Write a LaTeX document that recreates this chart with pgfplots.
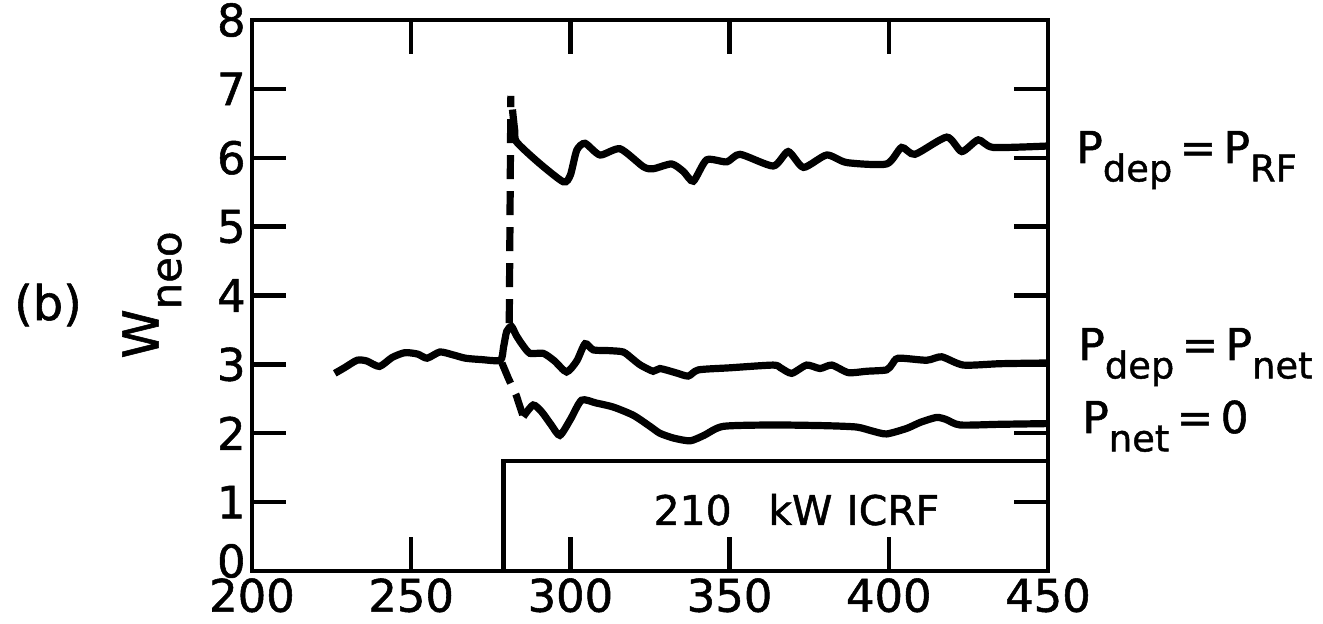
\documentclass[border=0pt]{standalone}
\usepackage{fontspec}
\setmainfont{DejaVu Sans}[FakeBold=1.2]
\usepackage{pgfplots}
\pgfplotsset{compat=1.18}

% subscripted power label, e.g. \Psub{dep}
\newcommand{\Psub}[1]{P\raisebox{-0.42em}{\fontsize{18.5}{18.5}\selectfont #1}}

\begin{document}
\begin{tikzpicture}
\begin{axis}[
  scale only axis,
  width=398bp, height=275.5bp,
  xmin=200, xmax=450, ymin=0, ymax=8,
  xtick={200,250,...,450}, ytick={1,...,8},
  extra y ticks={0},
  extra y tick style={yticklabel style={yshift=5bp}, tick style={draw=none}},
  tick align=inside,
  xtick pos=both, ytick pos=both,
  xticklabel pos=left, yticklabel pos=left,
  major tick length=17bp,
  axis line style={line width=2.4bp},
  every tick/.style={line width=2.2bp, black},
  /pgf/number format/assume math mode=true,
  ticklabel style={font=\fontsize{22.5}{22.5}\selectfont, inner sep=1bp},
  xticklabel style={yshift=-2.5bp},
  yticklabel style={xshift=-2bp},
  clip=false,
]
% ICRF pulse outline
\addplot[black, line width=2.2bp] coordinates {(279,0) (279,1.6) (450,1.6)};

% P_dep = P_net (ohmic phase and RF phase)
\addplot[black, line width=3.6bp, smooth, tension=0.4] coordinates {
 (226,2.87) (229,2.95) (233,3.06) (236,3.05) (240,2.97) (244,3.10) (248,3.17)
 (252,3.15) (255,3.09) (259,3.18) (263,3.14) (267,3.09) (272,3.07) (278,3.06)
 (279,3.25) (280,3.48) (281.5,3.55) (283,3.42) (285,3.28) (287.3,3.16)
 (291.5,3.16) (295,3.05) (298.8,2.89) (302,3.05) (304.6,3.30) (307.2,3.21)
 (312,3.20) (316.6,3.18) (319.5,3.08) (322,2.99) (326,2.90) (328.1,2.94)
 (333,2.88) (337,2.83) (340.2,2.92) (350,2.95) (363.7,2.99) (366,2.95)
 (369.5,2.87) (374.2,2.99) (378.4,2.94) (382.1,2.99) (387.3,2.88) (393,2.90)
 (399.3,2.92) (401,3.00) (403,3.09) (411.9,3.06) (416.6,3.11) (423.4,2.99)
 (435,3.01) (449.6,3.02)};

% P_net = 0
\addplot[black, line width=3.6bp, smooth, tension=0.4] coordinates {
 (285.2,2.24) (288.3,2.41) (291,2.31) (294,2.12) (296.7,1.97) (300,2.20)
 (303.5,2.48) (308,2.44) (313.5,2.38) (319.8,2.26) (325,2.10) (328.1,2.00)
 (332.4,1.93) (337.6,1.89) (342,1.97) (348,2.10) (363.7,2.12) (380,2.11)
 (389.9,2.09) (395,2.03) (399.3,1.99) (405.6,2.07) (410,2.16) (415,2.23)
 (418,2.20) (422.4,2.12) (435,2.13) (449.6,2.14)};
\addplot[black, line width=3.6bp, dash pattern=on 11bp off 6bp] coordinates {
 (278.5,3.02) (280.5,2.80) (283,2.55) (285.2,2.24)};

% P_dep = P_RF
\addplot[black, line width=3.6bp, dash pattern=on 12bp off 6bp] coordinates {
 (280.8,3.60) (281.3,6.90)};
\addplot[black, line width=3.6bp, smooth, tension=0.4] coordinates {
 (281.8,6.70) (282.5,6.40) (283.1,6.23) (290,5.93) (297.8,5.65) (300,5.75)
 (302,6.11) (304.6,6.21) (309.3,6.04) (315.6,6.13) (322.9,5.87) (326,5.84)
 (331.8,5.91) (335.5,5.80) (338.6,5.66) (342.8,5.97) (349.1,5.94) (353.3,6.05)
 (363.7,5.88) (368.4,6.09) (373.2,5.86) (380.5,6.04) (386.8,5.93) (399.3,5.91)
 (404,6.15) (408.2,6.05) (418.2,6.30) (422.9,6.09) (428.1,6.26) (432.8,6.15)
 (449.6,6.17)};

\node[font=\fontsize{20.5}{20.5}\selectfont] at (axis cs:371,0.89) {210\hspace{0.9em}kW\hspace{0.35em}ICRF};
\end{axis}

% axis title and panel tag
\node[rotate=90, font=\fontsize{25}{25}\selectfont] at (-50bp,138bp)
  {W\raisebox{-0.45em}{\fontsize{21}{21}\selectfont neo}};
\node[font=\fontsize{24}{24}\selectfont] at (-102bp,133bp) {(b)};

% curve labels on the right
\node[anchor=base west, font=\fontsize{22}{22}\selectfont, inner sep=0pt] at (412bp,204bp)
  {\Psub{dep}\,=\,\Psub{RF}};
\node[anchor=base west, font=\fontsize{22}{22}\selectfont, inner sep=0pt] at (413bp,105.5bp)
  {\Psub{dep}\,=\,\Psub{net}};
\node[anchor=base west, font=\fontsize{22}{22}\selectfont, inner sep=0pt] at (415bp,69bp)
  {\Psub{net}\,=\,0};

% page extent
\path (-126bp,-26.5bp) rectangle (535.5bp,285.5bp);
\end{tikzpicture}
\end{document}
